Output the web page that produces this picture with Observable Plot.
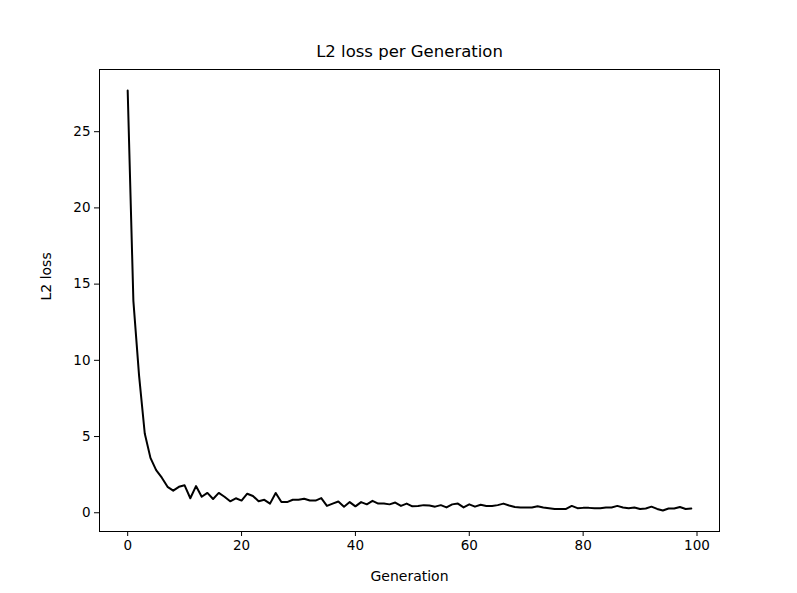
<!DOCTYPE html>
<html>
<head>
<meta charset="utf-8">
<script src="https://cdn.jsdelivr.net/npm/d3@7"></script>
<script src="https://cdn.jsdelivr.net/npm/@observablehq/plot@0.6"></script>
<style>
  html, body { margin: 0; padding: 0; background: #fff; }
  #chart { width: 797px; height: 593px; }
</style>
</head>
<body>
<div id="chart"></div>
<script>
const title = "L2 loss per Generation";
const xLabel = "Generation";
const yLabel = "L2 loss";
const xTicks = [0, 20, 40, 60, 80, 100];
const yTicks = [0, 5, 10, 15, 20, 25];
const loss = [
  27.7, 13.9, 9.0, 5.2, 3.6, 2.8, 2.3, 1.7, 1.45, 1.7,
  1.8, 0.95, 1.75, 1.05, 1.3, 0.9, 1.3, 1.05, 0.75, 0.95,
  0.8, 1.25, 1.1, 0.75, 0.85, 0.6, 1.3, 0.7, 0.7, 0.85,
  0.85, 0.92, 0.8, 0.8, 0.96, 0.45, 0.6, 0.74, 0.4, 0.7,
  0.42, 0.7, 0.55, 0.78, 0.6, 0.6, 0.55, 0.67, 0.45, 0.6,
  0.42, 0.45, 0.5, 0.48, 0.4, 0.5, 0.35, 0.55, 0.6, 0.35,
  0.55, 0.4, 0.52, 0.45, 0.45, 0.5, 0.6, 0.48, 0.38, 0.35,
  0.35, 0.35, 0.42, 0.35, 0.3, 0.25, 0.25, 0.25, 0.45, 0.3,
  0.32, 0.32, 0.3, 0.3, 0.35, 0.35, 0.45, 0.35, 0.3, 0.35,
  0.25, 0.28, 0.4, 0.25, 0.15, 0.28, 0.28, 0.38, 0.25, 0.28
];
const data = loss.map((v, i) => ({gen: i, loss: v}));

const font = "DejaVu Sans, sans-serif";
const chart = Plot.plot({
  width: 797,
  height: 593,
  marginLeft: 99,
  marginRight: 78,
  marginTop: 69,
  marginBottom: 62,
  style: {fontFamily: font, fontSize: "13.5px", color: "black", background: "white"},
  x: {domain: [-4.95, 103.95]},
  y: {domain: [-1.23, 29.08]},
  marks: [
    Plot.line(data, {x: "gen", y: "loss", stroke: "black", strokeWidth: 2}),
    Plot.frame({stroke: "black", strokeWidth: 1}),
    Plot.axisX({ticks: xTicks, tickSize: 5, tickPadding: 4, label: null, tickFormat: d => String(d)}),
    Plot.axisY({ticks: yTicks, tickSize: 5, tickPadding: 4, label: null, tickFormat: d => String(d)}),
    Plot.text([xLabel], {frameAnchor: "bottom", lineAnchor: "middle", dy: 45, text: d => d, fontSize: 14}),
    Plot.text([yLabel], {frameAnchor: "left", lineAnchor: "middle", dx: -53, rotate: -90, text: d => d, fontSize: 14}),
    Plot.text([title], {frameAnchor: "top", lineAnchor: "middle", dy: -18, text: d => d, fontSize: 16.5})
  ]
});
document.getElementById("chart").appendChild(chart);
</script>
</body>
</html>
